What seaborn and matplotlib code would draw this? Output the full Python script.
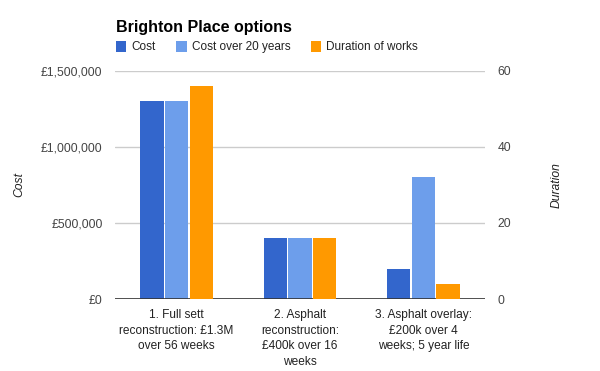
"""
Brighton Place options: coste y duración de las tres alternativas.
"""

import pandas as pd
import matplotlib
matplotlib.use("Agg")
import matplotlib.pyplot as plt
from matplotlib.patches import Patch
from matplotlib.ticker import FuncFormatter
import seaborn as sns

# ---------------------------------------------------------------------------
# Datos
# ---------------------------------------------------------------------------
opciones = [
    "1. Full sett\nreconstruction: £1.3M\nover 56 weeks",
    "2. Asphalt\nreconstruction:\n£400k over 16\nweeks",
    "3. Asphalt overlay:\n£200k over 4\nweeks; 5 year life",
]
coste = [1300000, 400000, 200000]
coste_20 = [1300000, 400000, 800000]
duracion = [56, 16, 4]

series = ["Cost", "Cost over 20 years", "Duration of works"]
colores = ["#3366cc", "#6d9eeb", "#ff9900"]

# tabla larga; cada eje solo dibuja su serie, el resto a cero para conservar el hueco
filas = []
for i, op in enumerate(opciones):
    filas.append((op, series[0], coste[i], 0))
    filas.append((op, series[1], coste_20[i], 0))
    filas.append((op, series[2], 0, duracion[i]))
df = pd.DataFrame(filas, columns=["opcion", "serie", "coste", "duracion"])

# ---------------------------------------------------------------------------
# Figura
# ---------------------------------------------------------------------------
sns.set_theme(style="white")
plt.rcParams["font.family"] = ["Liberation Sans", "DejaVu Sans"]

fig = plt.figure(figsize=(6, 3.71), dpi=100)
ax = fig.add_axes([115 / 600, 1 - 299 / 371, 370 / 600, 228 / 371])
ax2 = ax.twinx()

paleta = dict(zip(series, colores))
comun = dict(x="opcion", hue="serie", hue_order=series, order=opciones,
             palette=paleta, width=0.6, gap=0.06, saturation=1,
             errorbar=None, legend=False, linewidth=0)
sns.barplot(data=df, y="coste", ax=ax, **comun)
sns.barplot(data=df, y="duracion", ax=ax2, **comun)

ax.set_ylim(0, 1500000)
ax.set_yticks([0, 500000, 1000000, 1500000])
ax.yaxis.set_major_formatter(FuncFormatter(lambda v, _: f"£{v:,.0f}"))
ax2.set_ylim(0, 60)
ax2.set_yticks([0, 20, 40, 60])
ax.set_xlim(-0.5, 2.5)

ax.set_axisbelow(True)
ax.grid(axis="y", color="#cccccc", linewidth=1)
ax.grid(axis="x", visible=False)
ax2.grid(False)

for a in (ax, ax2):
    for lado in ("top", "left", "right", "bottom"):
        a.spines[lado].set_visible(False)
    a.set_xlabel("")
ax.axhline(0, color="#333333", linewidth=1.2, zorder=5)

ax.tick_params(axis="y", length=0, pad=9, labelsize=8.7, labelcolor="#444444")
ax2.tick_params(axis="y", length=0, pad=9, labelsize=8.7, labelcolor="#444444")
ax.tick_params(axis="x", length=0, pad=7, labelsize=8.6, labelcolor="#222222")
for t in ax.get_xticklabels():
    t.set_linespacing(1.42)

ax.set_ylabel("Cost", fontsize=8.7, style="italic", color="#222222")
ax2.set_ylabel("Duration", fontsize=8.7, style="italic", color="#222222")
ax.yaxis.set_label_coords(-0.243, 0.5)
ax2.yaxis.set_label_coords(1.178, 0.5)

fig.text(116 / 600, 1 - 32 / 371, "Brighton Place options", fontsize=11.5,
         fontweight="bold", color="#000000", va="baseline", ha="left")

handles = [Patch(facecolor=c, edgecolor="none") for c in colores]
fig.legend(handles, series, loc="center left", bbox_to_anchor=(0.175, 1 - 47 / 371),
           ncol=3, frameon=False, fontsize=8.5, handlelength=0.9, handleheight=1.15,
           handletextpad=0.45, columnspacing=1.7, labelcolor="#222222")

fig.savefig("out.png", dpi=100)
